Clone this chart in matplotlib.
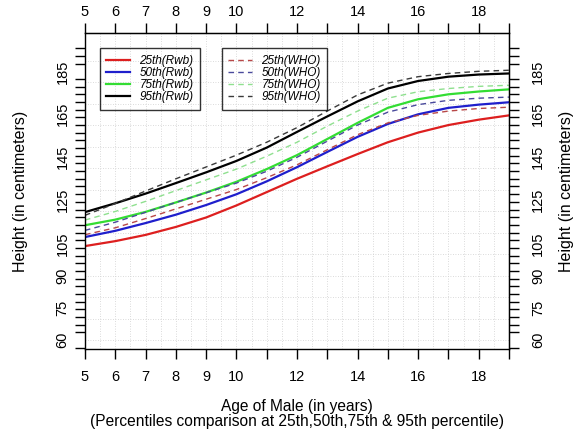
import numpy as np
import matplotlib
matplotlib.use("Agg")
import matplotlib.pyplot as plt
from matplotlib.ticker import FixedLocator, FixedFormatter

plt.rcParams['font.family'] = ['Liberation Sans', 'DejaVu Sans']

# ages in years
ages = list(range(5, 20))

# Rwb percentiles (cm)
rwb_25 = [103.7, 106.0, 108.9, 112.6, 117.0, 122.6, 128.8, 135.0, 140.8, 146.5, 152.0, 156.5, 160.0, 162.5, 164.5]
rwb_50 = [107.9, 110.8, 114.4, 118.3, 122.8, 127.8, 133.8, 140.4, 147.5, 154.5, 160.5, 165.0, 168.0, 169.5, 170.6]
rwb_75 = [113.4, 116.0, 119.6, 124.0, 128.6, 133.6, 139.5, 146.0, 153.5, 161.0, 168.0, 172.0, 174.3, 175.6, 176.6]
rwb_95 = [119.5, 123.6, 128.1, 133.0, 138.0, 143.3, 149.5, 156.8, 164.0, 171.0, 177.0, 180.5, 182.5, 183.5, 184.0]

# WHO percentiles (cm)
who_25 = [109.0, 112.2, 116.5, 121.0, 125.5, 130.0, 135.5, 141.5, 148.5, 155.5, 161.0, 164.5, 166.5, 167.7, 168.3]
who_50 = [111.0, 114.8, 119.4, 124.0, 128.5, 133.0, 138.5, 145.0, 152.5, 160.0, 166.0, 169.5, 171.5, 172.5, 173.0]
who_75 = [115.8, 119.8, 124.5, 129.5, 134.5, 139.5, 145.5, 152.0, 159.5, 166.5, 172.5, 175.5, 177.0, 178.0, 178.5]
who_95 = [118.0, 123.5, 129.3, 135.0, 140.5, 146.0, 152.0, 158.8, 166.5, 174.0, 179.5, 182.5, 184.0, 185.0, 185.5]

x_ticks = list(range(5, 20))
x_labels = ['5', '6', '7', '8', '9', '10', '', '12', '', '14', '', '16', '', '18', '']
y_ticks = [60, 75, 90, 105, 125, 145, 165, 185]
y_minor = 60 + np.arange(-1, 39) * 125 / 35

fig = plt.figure(figsize=(5.82, 4.32), dpi=100)
ax = fig.add_axes([0.146, 0.192, 0.7285, 0.731])

solid_colors = ['#dd1f1f', '#1f1fcc', '#33dd33', '#000000']
dash_colors = ['#b84848', '#4a4a9c', '#8fe08f', '#3a3a3a']
pcts = ['25th', '50th', '75th', '95th']

rwb_lines = []
for vals, c, p in zip([rwb_25, rwb_50, rwb_75, rwb_95], solid_colors, pcts):
    ln, = ax.plot(ages, vals, color=c, lw=1.6, label=f'{p}(Rwb)')
    rwb_lines.append(ln)

who_lines = []
for vals, c, p in zip([who_25, who_50, who_75, who_95], dash_colors, pcts):
    ln, = ax.plot(ages, vals, color=c, lw=1.0, ls=(0, (4, 3)), label=f'{p}(WHO)')
    who_lines.append(ln)

ax.set_xlim(5, 19)
ax.set_ylim(55.8, 202.7)

# dotted background grid
for gx in np.arange(5.5, 19, 0.5):
    ax.axvline(gx, color='#cfcfcf', lw=0.6, ls=(0, (1, 2)), zorder=0)
for gy in np.arange(60, 200, 10):
    ax.axhline(gy, color='#cfcfcf', lw=0.6, ls=(0, (1, 2)), zorder=0)

tick_kw = dict(direction='out', width=1, labelsize=10.5)

ax.xaxis.set_major_locator(FixedLocator(x_ticks))
ax.xaxis.set_major_formatter(FixedFormatter(x_labels))
ax.yaxis.set_major_locator(FixedLocator(y_ticks))
ax.yaxis.set_minor_locator(FixedLocator(y_minor))
ax.tick_params(axis='both', which='both', top=False, right=False, length=7, **tick_kw)
ax.tick_params(axis='x', pad=8)
ax.tick_params(axis='y', which='major', length=0, pad=11)
for lbl in ax.get_yticklabels():
    lbl.set_rotation(90)
    lbl.set_va('center')

# top axis
top = ax.secondary_xaxis('top')
top.xaxis.set_major_locator(FixedLocator(x_ticks))
top.xaxis.set_major_formatter(FixedFormatter(x_labels))
top.tick_params(axis='x', pad=3, length=7, **tick_kw)

# right axis
right = ax.secondary_yaxis('right')
right.yaxis.set_major_locator(FixedLocator(y_ticks))
right.yaxis.set_minor_locator(FixedLocator(y_minor))
right.tick_params(axis='y', which='minor', length=7, **tick_kw)
right.tick_params(axis='y', which='major', length=0, pad=16, **tick_kw)
for lbl in right.get_yticklabels():
    lbl.set_rotation(90)
    lbl.set_va('center')

for s in ax.spines.values():
    s.set_linewidth(1)

ax.set_ylabel('Height (in centimeters)', fontsize=11.5, labelpad=20)
right.set_ylabel('Height (in centimeters)', fontsize=11.5, labelpad=10)
ax.set_xlabel('Age of Male (in years)\n(Percentiles comparison at 25th,50th,75th & 95th percentile)',
              fontsize=11.2, labelpad=11, linespacing=0.95)

leg_kw = dict(loc='upper left', prop={'style': 'italic', 'size': 8.5},
              frameon=True, fancybox=False, edgecolor='black', facecolor='none',
              handlelength=2.0, handletextpad=0.8, labelspacing=0.02, borderpad=0.55,
              borderaxespad=0)
leg1 = ax.legend(handles=rwb_lines, bbox_to_anchor=(0.035, 0.9525), **leg_kw)
leg1.get_frame().set_linewidth(1)
ax.add_artist(leg1)
leg2 = ax.legend(handles=who_lines, bbox_to_anchor=(0.323, 0.9525), **leg_kw)
leg2.get_frame().set_linewidth(1)

fig.savefig('out.png', dpi=100)
